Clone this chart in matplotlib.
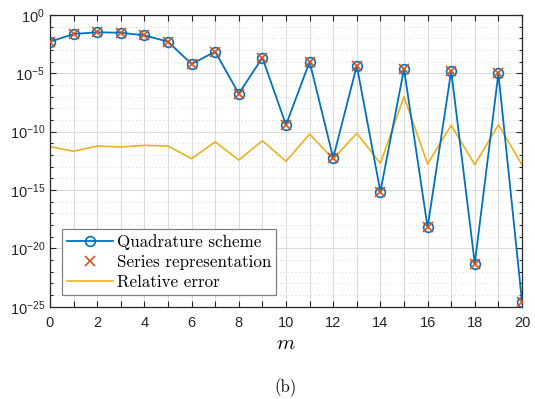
import numpy as np
import matplotlib
matplotlib.use("Agg")
import matplotlib.pyplot as plt
from matplotlib.ticker import FixedLocator, FuncFormatter, NullFormatter

plt.rcParams['font.family'] = ['Liberation Sans', 'DejaVu Sans']
plt.rcParams['mathtext.default'] = 'regular'

# data (log10 values)
m = np.arange(0, 21)
quad_log = [-2.29, -1.63, -1.48, -1.52, -1.74, -2.29, -4.2, -3.14, -6.74, -3.66,
            -9.43, -4.0, -12.25, -4.34, -15.14, -4.63, -18.2, -4.8, -21.3, -5.0, -24.57]
series_log = quad_log
relerr_log = [-11.28, -11.68, -11.23, -11.31, -11.17, -11.23, -12.31, -10.88, -12.43, -10.77,
              -12.54, -10.2, -12.35, -10.14, -12.71, -7.0, -12.77, -9.45, -12.83, -9.4, -12.83]

quad = 10.0 ** np.array(quad_log)
series = 10.0 ** np.array(series_log)
relerr = 10.0 ** np.array(relerr_log)

blue = '#0072BD'
orange = '#D95319'
yellow = '#EDB120'

fig = plt.figure(figsize=(5.35, 3.99), dpi=100)
ax = fig.add_axes([50/535, 1 - 306.7/399, 472/535, 291.7/399])

ax.plot(m, quad, '-o', color=blue, lw=1.3, ms=7, mfc='none', mew=1.2,
        label='Quadrature scheme', zorder=3)
ax.plot(m, series, 'x', color=orange, ms=7, mew=1.2, linestyle='none',
        label='Series representation', zorder=4)
ax.plot(m, relerr, '-', color=yellow, lw=1.2, label='Relative error', zorder=2)

ax.set_yscale('log')
ax.set_xlim(0, 20)
ax.set_ylim(1e-25, 1e0)

ax.xaxis.set_major_locator(FixedLocator(np.arange(0, 21)))
ax.xaxis.set_major_formatter(FuncFormatter(lambda v, p: '%d' % v if int(round(v)) % 2 == 0 else ''))
ax.yaxis.set_major_locator(FixedLocator([10.0 ** k for k in range(-25, 1, 5)]))
ax.yaxis.set_minor_locator(FixedLocator([10.0 ** k for k in range(-25, 1)]))
ax.yaxis.set_major_formatter(FuncFormatter(lambda v, p: '$10^{%d}$' % round(np.log10(v))))
ax.yaxis.set_minor_formatter(NullFormatter())

ax.tick_params(which='both', direction='in', top=True, right=True, labelsize=10.5,
               color='#262626', labelcolor='#262626')
ax.tick_params(which='major', length=4, width=0.8)
ax.tick_params(which='minor', length=2.5, width=0.8)
ax.tick_params(axis='x', pad=7)

ax.grid(True, which='major', color='#dcdcdc', lw=0.8)
ax.grid(True, which='minor', axis='y', color='#d0d0d0', lw=0.7, linestyle=(0, (1, 3)))
ax.set_axisbelow(True)
for s in ax.spines.values():
    s.set_color('#262626')
    s.set_linewidth(0.9)

ax.set_xlabel('m', family='cmmi10', fontsize=15, labelpad=3)

leg = ax.legend(loc='lower left', bbox_to_anchor=(0.025, 0.039), borderaxespad=0,
                prop={'family': 'cmr10', 'size': 12.2}, fancybox=False,
                edgecolor='#808080', framealpha=1, handlelength=2.7,
                handletextpad=0.25, borderpad=0.3, labelspacing=0.28)
leg.get_frame().set_linewidth(0.9)

fig.text(286/535, 1 - 388/399, '(b)', family='cmr10', fontsize=12,
         ha='center', va='center')

fig.savefig('out.png', dpi=100)
